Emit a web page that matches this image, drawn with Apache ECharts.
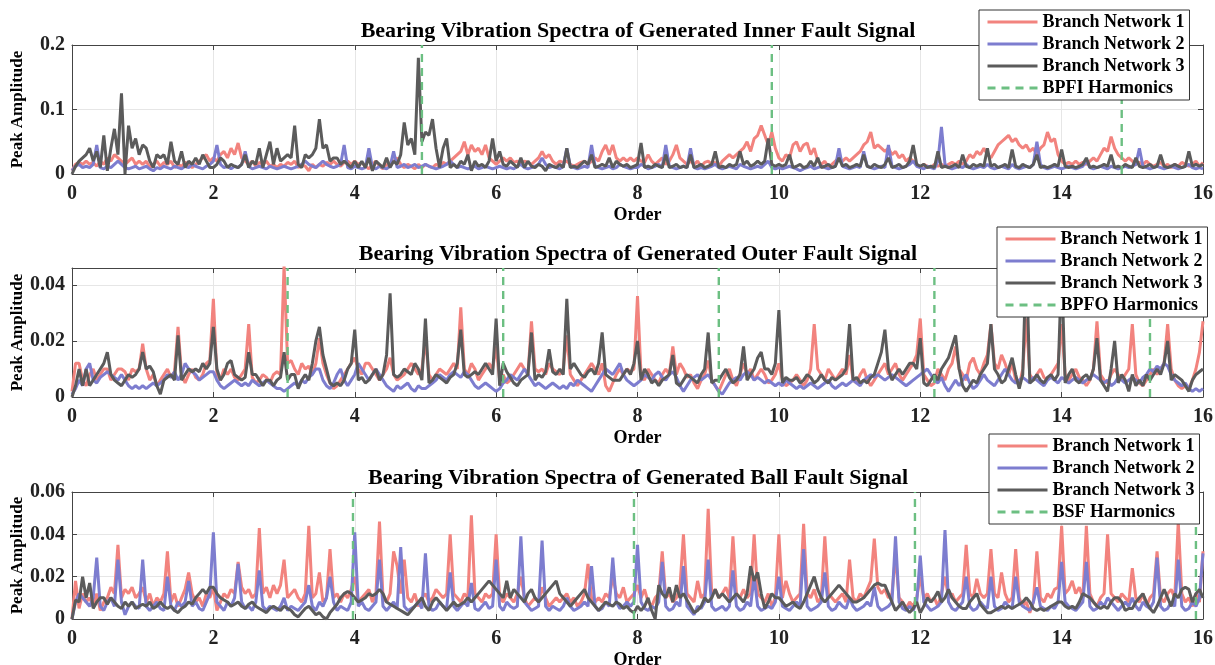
<!DOCTYPE html>
<html>
<head>
<meta charset="utf-8">
<script src="https://cdn.jsdelivr.net/npm/echarts/dist/echarts.min.js"></script>
<style>
  html, body { margin: 0; padding: 0; background: #fff; }
  #chart { width: 1215px; height: 665px; }
</style>
</head>
<body>
<div id="chart"></div>
<script>
// spectra sampled every 0.05 order, 0 .. 16 (one row = one order)
const ORDER_STEP = 0.05;

// inner fault
const innerBN1 = [
  0.005,0.015,0.018,0.015,0.02,0.015,0.018,0.012,0.02,0.015,0.025,0.02,0.03,0.025,0.02,0.015,0.02,0.025,0.015,0.02,
  0.015,0.02,0.01,0.015,0.02,0.012,0.018,0.015,0.02,0.01,0.015,0.012,0.018,0.015,0.01,0.015,0.02,0.025,0.03,0.02,
  0.025,0.02,0.03,0.035,0.025,0.04,0.03,0.048,0.025,0.02,0.015,0.02,0.012,0.018,0.015,0.02,0.012,0.015,0.01,0.015,
  0.012,0.018,0.015,0.02,0.01,0.015,0.012,0.005,0.015,0.01,0.015,0.012,0.018,0.015,0.02,0.015,0.012,0.018,0.02,0.015,
  0.02,0.015,0.018,0.012,0.008,0.015,0.02,0.012,0.008,0.015,0.012,0.02,0.025,0.015,0.01,0.015,0.012,0.008,0.015,0.01,
  0.015,0.012,0.01,0.015,0.012,0.018,0.015,0.02,0.025,0.03,0.035,0.05,0.03,0.045,0.035,0.04,0.03,0.045,0.025,0.02,
  0.015,0.02,0.025,0.02,0.025,0.018,0.02,0.015,0.02,0.018,0.015,0.02,0.025,0.035,0.025,0.03,0.02,0.015,0.02,0.018,
  0.02,0.015,0.012,0.015,0.018,0.02,0.015,0.02,0.025,0.02,0.035,0.045,0.03,0.045,0.025,0.02,0.025,0.02,0.025,0.02,
  0.025,0.02,0.018,0.03,0.02,0.015,0.02,0.025,0.015,0.02,0.03,0.045,0.025,0.02,0.015,0.02,0.015,0.02,0.012,0.018,
  0.02,0.015,0.018,0.012,0.02,0.025,0.03,0.025,0.03,0.035,0.04,0.05,0.035,0.055,0.06,0.075,0.06,0.045,0.065,0.04,
  0.025,0.02,0.03,0.025,0.045,0.05,0.035,0.045,0.048,0.03,0.04,0.02,0.015,0.02,0.01,0.015,0.02,0.025,0.02,0.025,
  0.02,0.025,0.03,0.035,0.045,0.05,0.065,0.04,0.045,0.04,0.035,0.04,0.03,0.035,0.025,0.03,0.02,0.025,0.02,0.015,
  0.01,0.015,0.012,0.01,0.015,0.012,0.015,0.012,0.015,0.018,0.015,0.02,0.015,0.02,0.03,0.025,0.035,0.03,0.04,0.03,
  0.025,0.035,0.045,0.05,0.055,0.06,0.05,0.055,0.045,0.04,0.045,0.035,0.04,0.03,0.04,0.045,0.065,0.05,0.055,0.03,
  0.02,0.015,0.018,0.015,0.02,0.015,0.018,0.015,0.02,0.025,0.02,0.03,0.04,0.035,0.058,0.04,0.03,0.025,0.02,0.025,
  0.02,0.015,0.018,0.015,0.02,0.015,0.012,0.015,0.018,0.012,0.015,0.01,0.015,0.012,0.018,0.015,0.012,0.015,0.02,0.012,
  0.018
];
const innerBN2 = [
  0.005,0.012,0.015,0.01,0.012,0.01,0.015,0.045,0.01,0.008,0.012,0.01,0.015,0.02,0.015,0.01,0.008,0.01,0.012,0.008,
  0.01,0.012,0.008,0.005,0.01,0.008,0.012,0.01,0.008,0.012,0.01,0.008,0.012,0.01,0.015,0.012,0.01,0.008,0.012,0.015,
  0.02,0.045,0.015,0.01,0.012,0.008,0.012,0.01,0.015,0.035,0.012,0.008,0.01,0.012,0.01,0.008,0.012,0.01,0.008,0.01,
  0.012,0.01,0.008,0.01,0.012,0.015,0.02,0.015,0.012,0.01,0.015,0.02,0.015,0.012,0.01,0.012,0.015,0.045,0.01,0.008,
  0.012,0.01,0.008,0.01,0.04,0.01,0.008,0.012,0.01,0.008,0.012,0.035,0.01,0.012,0.015,0.01,0.012,0.015,0.01,0.012,
  0.015,0.012,0.01,0.008,0.01,0.012,0.015,0.02,0.015,0.01,0.012,0.01,0.008,0.01,0.012,0.008,0.01,0.012,0.01,0.008,
  0.01,0.012,0.01,0.008,0.01,0.008,0.012,0.015,0.01,0.008,0.01,0.012,0.015,0.025,0.015,0.01,0.012,0.01,0.008,0.012,
  0.04,0.012,0.01,0.008,0.01,0.012,0.01,0.045,0.012,0.01,0.008,0.01,0.012,0.008,0.01,0.015,0.012,0.01,0.008,0.01,
  0.01,0.015,0.012,0.008,0.01,0.012,0.015,0.01,0.045,0.012,0.01,0.008,0.01,0.012,0.01,0.04,0.01,0.008,0.01,0.008,
  0.01,0.012,0.015,0.01,0.008,0.01,0.012,0.01,0.008,0.015,0.012,0.01,0.008,0.01,0.012,0.01,0.015,0.02,0.01,0.008,
  0.01,0.008,0.01,0.012,0.01,0.008,0.005,0.008,0.01,0.012,0.008,0.01,0.012,0.01,0.008,0.01,0.012,0.04,0.012,0.01,
  0.008,0.01,0.012,0.01,0.035,0.012,0.01,0.008,0.01,0.012,0.01,0.045,0.012,0.01,0.008,0.01,0.012,0.015,0.02,0.012,
  0.01,0.008,0.012,0.01,0.008,0.02,0.073,0.015,0.01,0.008,0.01,0.012,0.01,0.015,0.01,0.008,0.01,0.012,0.01,0.015,
  0.01,0.008,0.01,0.012,0.01,0.008,0.015,0.01,0.008,0.01,0.012,0.01,0.015,0.05,0.015,0.01,0.008,0.01,0.012,0.01,
  0.008,0.01,0.012,0.01,0.008,0.01,0.012,0.02,0.01,0.008,0.01,0.012,0.01,0.008,0.012,0.01,0.008,0.01,0.012,0.01,
  0.012,0.015,0.04,0.012,0.01,0.008,0.01,0.012,0.01,0.008,0.01,0.012,0.01,0.008,0.01,0.012,0.015,0.01,0.008,0.01,
  0.008
];
const innerBN3 = [
  0,0.012,0.02,0.025,0.03,0.04,0.02,0.035,0.01,0.06,0.005,0.04,0.07,0.03,0.125,0,0.075,0.04,0.055,0.03,
  0.045,0.04,0.02,0.01,0.03,0.025,0.03,0.015,0.05,0.02,0.015,0.035,0.01,0.02,0.015,0.025,0.015,0.03,0.02,0.01,
  0.01,0.015,0.025,0.02,0.01,0.015,0.012,0.01,0.015,0.03,0.01,0.02,0.015,0.04,0.01,0.03,0.05,0.015,0.04,0.02,
  0.025,0.03,0.025,0.075,0.015,0.01,0.03,0.025,0.03,0.04,0.085,0.04,0.045,0.02,0.025,0.025,0.015,0.02,0.015,0.01,
  0.02,0.01,0.02,0.01,0.025,0.005,0.02,0.015,0.01,0.025,0.01,0.02,0.015,0.03,0.08,0.045,0.055,0.03,0.18,0.05,
  0.065,0.06,0.085,0.04,0.01,0.04,0.055,0.01,0.015,0.01,0.02,0.015,0.03,0.005,0.02,0.012,0.015,0.01,0.02,0.055,
  0.02,0.035,0.015,0.012,0.02,0.015,0.01,0.025,0.01,0.02,0.012,0.01,0.015,0.012,0.005,0.015,0.012,0.01,0.015,0.01,
  0.04,0.01,0.012,0.01,0.015,0.02,0.015,0.03,0.01,0.012,0.015,0.012,0.025,0.01,0.02,0.015,0.012,0.015,0.01,0.012,
  0.015,0.048,0.01,0.012,0.01,0.015,0.012,0.01,0.03,0.01,0.012,0.015,0.01,0.012,0.01,0.03,0.01,0.012,0.015,0.01,
  0.012,0.015,0.035,0.01,0.012,0.01,0.015,0.012,0.015,0.035,0.015,0.02,0.012,0.015,0.02,0.015,0.02,0.055,0.015,0.012,
  0.015,0.012,0.015,0.03,0.01,0.012,0.015,0.01,0.012,0.02,0.012,0.025,0.01,0.012,0.015,0.01,0.012,0.025,0.012,0.015,
  0.01,0.012,0.015,0.012,0.03,0.012,0.01,0.015,0.012,0.01,0.015,0.025,0.01,0.012,0.015,0.01,0.012,0.02,0.045,0.015,
  0.012,0.015,0.01,0.012,0.01,0.035,0.01,0.012,0.01,0.012,0.015,0.01,0.03,0.012,0.01,0.015,0.012,0.015,0.012,0.04,
  0.012,0.015,0.01,0.012,0.015,0.01,0.038,0.012,0.01,0.015,0.012,0.01,0.015,0.03,0.01,0.012,0.01,0.012,0.015,0.012,
  0.038,0.012,0.01,0.012,0.01,0.012,0.015,0.025,0.01,0.012,0.01,0.012,0.015,0.012,0.03,0.01,0.012,0.01,0.015,0.012,
  0.01,0.025,0.012,0.01,0.012,0.015,0.01,0.012,0.03,0.012,0.01,0.012,0.015,0.012,0.01,0.012,0.035,0.012,0.015,0.012,
  0.015
];

// outer fault
const outerBN1 = [
  0.002,0.012,0.012,0.006,0.004,0.008,0.01,0.006,0.008,0.01,0.01,0.006,0.008,0.01,0.01,0.009,0.006,0.01,0.009,0.01,
  0.019,0.01,0.006,0.008,0.004,0.006,0.008,0.01,0.007,0.009,0.025,0.008,0.005,0.008,0.01,0.007,0.006,0.008,0.012,0.013,
  0.035,0.008,0.006,0.01,0.008,0.01,0.007,0.006,0.008,0.01,0.026,0.007,0.005,0.006,0.008,0.007,0.005,0.008,0.009,0.008,
  0.047,0.012,0.013,0.01,0.008,0.012,0.01,0.011,0.008,0.012,0.021,0.012,0.008,0.005,0.003,0.004,0.006,0.008,0.01,0.012,
  0.014,0.01,0.008,0.012,0.012,0.01,0.008,0.006,0.008,0.01,0.014,0.008,0.006,0.007,0.008,0.01,0.012,0.01,0.008,0.01,
  0.02,0.008,0.006,0.008,0.01,0.009,0.008,0.01,0.012,0.01,0.032,0.01,0.008,0.012,0.01,0.006,0.008,0.01,0.012,0.01,
  0.018,0.006,0.008,0.005,0.006,0.008,0.01,0.012,0.01,0.008,0.027,0.01,0.009,0.01,0.008,0.012,0.01,0.009,0.008,0.01,
  0.022,0.008,0.006,0.004,0.006,0.008,0.01,0.012,0.01,0.008,0.012,0.004,0.002,0.005,0.008,0.01,0.008,0.01,0.009,0.01,
  0.036,0.008,0.006,0.01,0.008,0.006,0.005,0.008,0.01,0.008,0.018,0.008,0.012,0.01,0.007,0.008,0.005,0.003,0.006,0.008,
  0.013,0.006,0.004,0.002,0.005,0.008,0.01,0.006,0.004,0.008,0.012,0.008,0.01,0.006,0.008,0.01,0.008,0.005,0.006,0.008,
  0.012,0.006,0.004,0.005,0.006,0.008,0.006,0.004,0.006,0.01,0.026,0.01,0.008,0.006,0.01,0.008,0.006,0.008,0.01,0.008,
  0.015,0.006,0.005,0.008,0.01,0.006,0.004,0.006,0.008,0.01,0.012,0.008,0.01,0.012,0.008,0.006,0.008,0.01,0.012,0.015,
  0.028,0.008,0.006,0.004,0.005,0.01,0.008,0.006,0.01,0.012,0.018,0.01,0.008,0.006,0.012,0.014,0.01,0.008,0.012,0.015,
  0.026,0.012,0.01,0.015,0.012,0.008,0.012,0.006,0.004,0.01,0.028,0.008,0.006,0.008,0.01,0.007,0.006,0.008,0.01,0.012,
  0.026,0.008,0.006,0.008,0.01,0.007,0.006,0.004,0.006,0.01,0.027,0.008,0.006,0.005,0.008,0.01,0.008,0.006,0.008,0.01,
  0.026,0.008,0.005,0.004,0.006,0.008,0.01,0.008,0.01,0.012,0.026,0.01,0.006,0.004,0.003,0.004,0.003,0.006,0.01,0.016,
  0.027
];
const outerBN2 = [
  0.001,0.003,0.006,0.004,0.01,0.012,0.006,0.005,0.007,0.008,0.009,0.008,0.007,0.006,0.008,0.006,0.004,0.003,0.004,0.003,
  0.004,0.003,0.004,0.005,0.004,0.005,0.006,0.008,0.007,0.009,0.006,0.008,0.012,0.01,0.009,0.008,0.006,0.007,0.008,0.009,
  0.009,0.006,0.004,0.003,0.004,0.005,0.006,0.005,0.004,0.005,0.004,0.006,0.005,0.004,0.005,0.006,0.005,0.004,0.003,0.003,
  0.002,0.003,0.004,0.005,0.004,0.006,0.005,0.007,0.008,0.01,0.01,0.006,0.004,0.003,0.005,0.008,0.01,0.006,0.004,0.006,
  0.008,0.012,0.01,0.008,0.006,0.008,0.01,0.008,0.006,0.004,0.003,0.002,0.004,0.003,0.004,0.005,0.003,0.002,0.004,0.003,
  0.003,0.004,0.005,0.006,0.008,0.007,0.006,0.008,0.009,0.008,0.007,0.009,0.008,0.006,0.004,0.003,0.004,0.005,0.004,0.003,
  0.002,0.003,0.005,0.006,0.008,0.007,0.006,0.008,0.01,0.008,0.006,0.004,0.005,0.004,0.003,0.004,0.005,0.004,0.003,0.004,
  0.003,0.005,0.004,0.006,0.005,0.004,0.003,0.002,0.004,0.006,0.008,0.01,0.009,0.008,0.01,0.012,0.008,0.006,0.005,0.004,
  0.005,0.006,0.008,0.007,0.006,0.008,0.009,0.007,0.006,0.008,0.009,0.007,0.004,0.002,0.004,0.006,0.007,0.008,0.006,0.007,
  0.008,0.006,0.004,0.002,0.001,0.003,0.005,0.006,0.007,0.006,0.008,0.009,0.008,0.006,0.007,0.006,0.005,0.006,0.005,0.004,
  0.005,0.004,0.006,0.005,0.004,0.003,0.004,0.003,0.004,0.005,0.004,0.003,0.004,0.005,0.006,0.004,0.003,0.004,0.005,0.004,
  0.005,0.006,0.005,0.004,0.006,0.007,0.008,0.007,0.008,0.007,0.006,0.007,0.008,0.007,0.006,0.005,0.004,0.005,0.006,0.007,
  0.008,0.009,0.01,0.008,0.006,0.005,0.007,0.004,0.002,0.004,0.006,0.004,0.006,0.008,0.005,0.003,0.004,0.006,0.008,0.006,
  0.005,0.004,0.006,0.008,0.01,0.008,0.006,0.005,0.006,0.007,0.006,0.005,0.007,0.006,0.005,0.004,0.006,0.007,0.006,0.005,
  0.007,0.006,0.005,0.006,0.007,0.006,0.005,0.006,0.007,0.008,0.007,0.006,0.005,0.006,0.004,0.005,0.007,0.006,0.005,0.006,
  0.007,0.006,0.005,0.007,0.008,0.01,0.009,0.011,0.01,0.012,0.011,0.008,0.006,0.005,0.004,0.005,0.003,0.002,0.003,0.002,
  0.003
];
const outerBN3 = [
  0,0.004,0.01,0.004,0.01,0.004,0.006,0.008,0.01,0.012,0.016,0.008,0.006,0.005,0.004,0.006,0.008,0.007,0.008,0.01,
  0.016,0.01,0.011,0.009,0.004,0.001,0.006,0.007,0.008,0.006,0.022,0.006,0.008,0.01,0.009,0.01,0.009,0.012,0.01,0.012,
  0.025,0.01,0.006,0.008,0.012,0.013,0.008,0.007,0.006,0.007,0.016,0.008,0.008,0.006,0.004,0.006,0.006,0.004,0.006,0.007,
  0.016,0.006,0.008,0.008,0.003,0.006,0.008,0.006,0.012,0.02,0.025,0.015,0.01,0.005,0.004,0.005,0.004,0.006,0.01,0.012,
  0.024,0.006,0.007,0.005,0.006,0.008,0.01,0.006,0.008,0.015,0.037,0.008,0.007,0.008,0.01,0.009,0.008,0.012,0.01,0.006,
  0.028,0.005,0.006,0.008,0.007,0.006,0.005,0.007,0.008,0.012,0.024,0.008,0.007,0.008,0.009,0.008,0.01,0.012,0.01,0.008,
  0.028,0.004,0.012,0.009,0.007,0.005,0.004,0.006,0.007,0.008,0.023,0.006,0.008,0.007,0.009,0.017,0.009,0.008,0.01,0.008,
  0.035,0.01,0.012,0.01,0.008,0.007,0.009,0.01,0.008,0.012,0.023,0.008,0.007,0.006,0.006,0.006,0.008,0.01,0.008,0.012,
  0.02,0.006,0.01,0.008,0.005,0.006,0.004,0.006,0.007,0.008,0.015,0.005,0.004,0.006,0.008,0.007,0.006,0.005,0.008,0.01,
  0.023,0.005,0.006,0.006,0.008,0.01,0.007,0.005,0.006,0.008,0.018,0.006,0.008,0.01,0.014,0.016,0.01,0.01,0.008,0.012,
  0.031,0.005,0.007,0.006,0.006,0.007,0.005,0.006,0.008,0.007,0.005,0.006,0.008,0.006,0.005,0.007,0.006,0.007,0.008,0.01,
  0.026,0.006,0.007,0.005,0.006,0.005,0.007,0.008,0.012,0.016,0.024,0.01,0.006,0.008,0.01,0.008,0.01,0.012,0.012,0.01,
  0.021,0.005,0.004,0.006,0.008,0.006,0.01,0.012,0.014,0.018,0.022,0.01,0.004,0.002,0.004,0.006,0.005,0.008,0.01,0.012,
  0.026,0.01,0.008,0.005,0.006,0.01,0.014,0.008,0.003,0.008,0.05,0.005,0.006,0.008,0.006,0.005,0.007,0.008,0.006,0.008,
  0.046,0.005,0.008,0.01,0.006,0.005,0.007,0.008,0.006,0.01,0.021,0.006,0.004,0.002,0.01,0.02,0.005,0.008,0.006,0.002,
  0.008,0.004,0.006,0.004,0.008,0.006,0.008,0.01,0.008,0.012,0.02,0.006,0.008,0.007,0.006,0.004,0.002,0.006,0.008,0.009,
  0.01
];

// ball fault
const ballBN1 = [
  0,0.018,0.005,0.012,0.008,0.01,0.006,0.012,0.004,0.008,0.01,0.015,0.012,0.035,0.01,0.014,0.012,0.015,0.01,0.012,
  0.015,0.008,0.012,0.006,0.01,0.008,0.012,0.032,0.008,0.012,0.006,0.01,0.014,0.022,0.012,0.008,0.01,0.006,0.012,0.01,
  0.015,0.004,0.008,0.012,0.01,0.014,0.012,0.027,0.015,0.012,0.014,0.01,0.012,0.043,0.012,0.015,0.01,0.016,0.012,0.016,
  0.028,0.01,0.012,0.014,0.01,0.008,0.012,0.044,0.01,0.012,0.022,0.008,0.01,0.033,0.01,0.012,0.008,0.012,0.01,0.014,
  0.02,0.008,0.01,0.012,0.014,0.008,0.012,0.046,0.01,0.008,0.012,0.032,0.025,0.012,0.028,0.01,0.008,0.012,0.006,0.01,
  0.012,0.008,0.01,0.014,0.012,0.01,0.012,0.04,0.012,0.01,0.008,0.012,0.01,0.049,0.012,0.01,0.008,0.012,0.01,0.012,
  0.04,0.01,0.008,0.012,0.01,0.008,0.012,0.02,0.01,0.006,0.008,0.01,0.008,0.015,0.01,0.006,0.008,0.01,0.008,0.01,
  0.012,0.008,0.01,0.006,0.008,0.012,0.026,0.01,0.008,0.01,0.008,0.012,0.01,0.02,0.012,0.01,0.015,0.008,0.01,0.012,
  0.016,0.01,0.014,0.008,0.006,0.01,0.012,0.032,0.01,0.012,0.008,0.01,0.015,0.04,0.012,0.01,0.008,0.018,0.01,0.012,
  0.052,0.012,0.014,0.01,0.012,0.015,0.01,0.039,0.012,0.01,0.014,0.01,0.012,0.04,0.012,0.01,0.008,0.012,0.006,0.01,
  0.04,0.01,0.018,0.012,0.008,0.01,0.012,0.045,0.012,0.01,0.014,0.008,0.01,0.039,0.012,0.01,0.008,0.01,0.012,0.008,
  0.028,0.01,0.008,0.012,0.01,0.014,0.018,0.038,0.015,0.012,0.014,0.01,0.012,0.03,0.01,0.008,0.005,0.008,0.006,0.01,
  0.02,0.01,0.012,0.008,0.01,0.006,0.012,0.02,0.01,0.012,0.008,0.01,0.012,0.035,0.012,0.01,0.019,0.012,0.01,0.012,
  0.033,0.012,0.01,0.022,0.012,0.008,0.01,0.033,0.01,0.006,0.008,0.003,0.008,0.032,0.01,0.008,0.012,0.01,0.014,0.015,
  0.044,0.012,0.014,0.018,0.012,0.015,0.01,0.044,0.012,0.008,0.006,0.01,0.012,0.04,0.012,0.01,0.008,0.012,0.01,0.008,
  0.024,0.01,0.008,0.012,0.006,0.01,0.012,0.032,0.01,0.008,0.012,0.014,0.01,0.046,0.012,0.008,0.01,0.006,0.012,0.008,
  0.032
];
const ballBN2 = [
  0,0.008,0.012,0.01,0.008,0.006,0.01,0.029,0.006,0.004,0.008,0.01,0.006,0.028,0.008,0.002,0.006,0.008,0.006,0.005,
  0.028,0.006,0.004,0.006,0.008,0.005,0.004,0.02,0.006,0.004,0.008,0.006,0.008,0.018,0.006,0.008,0.005,0.004,0.008,0.012,
  0.041,0.008,0.006,0.004,0.008,0.006,0.01,0.026,0.008,0.005,0.006,0.004,0.008,0.023,0.006,0.004,0.006,0.005,0.004,0.006,
  0.01,0.004,0.006,0.005,0.004,0.006,0.008,0.016,0.006,0.004,0.008,0.006,0.01,0.02,0.008,0.004,0.006,0.005,0.004,0.008,
  0.041,0.006,0.008,0.005,0.004,0.006,0.008,0.028,0.006,0.004,0.006,0.008,0.005,0.034,0.006,0.004,0.005,0.006,0.008,0.005,
  0.031,0.006,0.004,0.005,0.008,0.006,0.005,0.022,0.006,0.004,0.006,0.008,0.006,0.017,0.005,0.004,0.006,0.008,0.005,0.006,
  0.028,0.006,0.004,0.008,0.006,0.005,0.006,0.039,0.008,0.006,0.004,0.005,0.006,0.037,0.006,0.004,0.006,0.005,0.004,0.006,
  0.01,0.006,0.004,0.005,0.006,0.008,0.006,0.025,0.006,0.004,0.005,0.008,0.006,0.029,0.008,0.005,0.006,0.008,0.006,0.008,
  0.035,0.008,0.005,0.004,0.006,0.005,0.008,0.027,0.006,0.004,0.005,0.008,0.006,0.025,0.006,0.004,0.002,0.006,0.005,0.008,
  0.028,0.006,0.004,0.005,0.006,0.004,0.006,0.023,0.006,0.004,0.005,0.008,0.006,0.02,0.006,0.004,0.005,0.006,0.005,0.008,
  0.02,0.006,0.005,0.004,0.006,0.008,0.006,0.033,0.006,0.004,0.005,0.006,0.008,0.022,0.006,0.004,0.005,0.008,0.006,0.005,
  0.01,0.006,0.004,0.005,0.006,0.008,0.006,0.015,0.006,0.004,0.005,0.006,0.008,0.039,0.008,0.005,0.004,0.006,0.004,0.008,
  0.03,0.008,0.006,0.004,0.005,0.006,0.008,0.042,0.008,0.005,0.004,0.006,0.008,0.02,0.006,0.004,0.005,0.008,0.006,0.005,
  0.02,0.006,0.004,0.005,0.008,0.006,0.005,0.02,0.008,0.006,0.005,0.004,0.008,0.015,0.006,0.005,0.004,0.006,0.005,0.008,
  0.027,0.008,0.006,0.005,0.004,0.006,0.008,0.027,0.006,0.004,0.005,0.008,0.006,0.01,0.008,0.006,0.004,0.006,0.008,0.006,
  0.01,0.006,0.004,0.008,0.006,0.005,0.008,0.029,0.006,0.004,0.005,0.008,0.006,0.028,0.006,0.004,0.005,0.008,0.006,0.01,
  0.031
];
const ballBN3 = [
  0,0.009,0.008,0.02,0.01,0.017,0.005,0.008,0.01,0.01,0.007,0.01,0.008,0.006,0.005,0.008,0.006,0.008,0.005,0.006,
  0.007,0.006,0.008,0.005,0.006,0.008,0.006,0.005,0.006,0.004,0.003,0.005,0.006,0.008,0.007,0.01,0.012,0.014,0.012,0.015,
  0.015,0.012,0.01,0.009,0.008,0.006,0.007,0.008,0.006,0.005,0.007,0.008,0.006,0.005,0.004,0.003,0.005,0.006,0.005,0.004,
  0.006,0.005,0.004,0.002,0.001,0.003,0.005,0.006,0.004,0.002,0.003,0.001,0,0.003,0.005,0.007,0.01,0.012,0.013,0.012,
  0.01,0.008,0.009,0.01,0.012,0.011,0.012,0.014,0.012,0.008,0.007,0.006,0.005,0.004,0.003,0.002,0.004,0.006,0.008,0.01,
  0.006,0.004,0.008,0.01,0.008,0.006,0.004,0.006,0.008,0.006,0.007,0.008,0.01,0.008,0.01,0.012,0.014,0.016,0.018,0.016,
  0.014,0.012,0.01,0.018,0.01,0.014,0.012,0.01,0.008,0.012,0.014,0.01,0.008,0.01,0.012,0.014,0.016,0.018,0.012,0.01,
  0.008,0.006,0.008,0.01,0.012,0.014,0.01,0.008,0.006,0.004,0.006,0.008,0.007,0.006,0.008,0.007,0.005,0.006,0.004,0.003,
  0.006,0.004,0.006,0.01,0.004,0,0.016,0.012,0.01,0.015,0.008,0.016,0.01,0.012,0.009,0.006,0.003,0.004,0.006,0.01,
  0.008,0.01,0.014,0.01,0.012,0.01,0.008,0.01,0.012,0.01,0.008,0.012,0.025,0.018,0.022,0.012,0.005,0.008,0.012,0.01,
  0.01,0.008,0.006,0.007,0.008,0.006,0.005,0.008,0.012,0.016,0.02,0.014,0.01,0.008,0.01,0.012,0.014,0.016,0.014,0.012,
  0.01,0.008,0.008,0.009,0.01,0.012,0.014,0.016,0.017,0.016,0.016,0.012,0.008,0.004,0.006,0.008,0.005,0.003,0.005,0.008,
  0.003,0.006,0.01,0.008,0.01,0.013,0.008,0.01,0.014,0.01,0.008,0.006,0.005,0.005,0.008,0.01,0.012,0.007,0.005,0.003,
  0.003,0.004,0.005,0.006,0.005,0.006,0.005,0.006,0.007,0.008,0.01,0.008,0.005,0.004,0.005,0.004,0.005,0.006,0.007,0.008,
  0.008,0.006,0.005,0.006,0.005,0.008,0.012,0.011,0.01,0.008,0.006,0.005,0.006,0.005,0.008,0.01,0.01,0.008,0.004,0.005,
  0.005,0.008,0.01,0.012,0.008,0.005,0.003,0.006,0.01,0.014,0.01,0.006,0.012,0.01,0.014,0.015,0.014,0.008,0.012,0.014,
  0.01
];

// fault characteristic harmonics (order)
const bpfiHarmonics = [4.95, 9.9, 14.85];
const bpfoHarmonics = [3.05, 6.1, 9.15, 12.2, 15.25];
const bsfHarmonics = [3.975, 7.95, 11.925, 15.9];

const branchNames = ['Branch Network 1', 'Branch Network 2', 'Branch Network 3'];
const branchColors = ['#F2837E', '#7D7DCF', '#5B5B5B'];
const harmColor = '#6CBF82';
const FONT = "'Liberation Serif', 'Times New Roman', serif";

const panels = [
  { title: 'Bearing Vibration Spectra of Generated Inner Fault Signal', top: 45, height: 129, yMax: 0.2, yStep: 0.1,
    lines: [innerBN1, innerBN2, innerBN3], harmName: 'BPFI Harmonics', harm: bpfiHarmonics, legendLeft: 979, legendTop: 10 },
  { title: 'Bearing Vibration Spectra of Generated Outer Fault Signal', top: 268, height: 129, yMax: 0.046, yStep: 0.02,
    lines: [outerBN1, outerBN2, outerBN3], harmName: 'BPFO Harmonics', harm: bpfoHarmonics, legendLeft: 997, legendTop: 227 },
  { title: 'Bearing Vibration Spectra of Generated Ball Fault Signal', top: 492, height: 127, yMax: 0.06, yStep: 0.02,
    lines: [ballBN1, ballBN2, ballBN3], harmName: 'BSF Harmonics', harm: bsfHarmonics, legendLeft: 989, legendTop: 434 }
];

const boldText = { fontFamily: FONT, fontWeight: 'bold', color: '#000' };
const axisColor = '#444';

const option = {
  animation: false,
  backgroundColor: '#fff',
  title: [], grid: [], xAxis: [], yAxis: [], legend: [], series: []
};

panels.forEach(function (p, i) {
  option.title.push({
    text: p.title, left: 633, top: p.top - 30, textAlign: 'center',
    textStyle: Object.assign({ fontSize: 22 }, boldText)
  });
  option.grid.push({ left: 72, right: 12, top: p.top, height: p.height, outerBoundsMode: 'none', containLabel: false });

  option.xAxis.push({
    gridIndex: i, type: 'value', min: 0, max: 16, interval: 2,
    name: 'Order', nameLocation: 'middle', nameGap: 32, nameMoveOverlap: false,
    nameTextStyle: Object.assign({ fontSize: 18 }, boldText),
    axisLine: { lineStyle: { color: axisColor, width: 1 } },
    axisTick: { inside: true, length: 5, lineStyle: { color: axisColor } },
    axisLabel: Object.assign({ fontSize: 20, margin: 10 }, boldText, { color: '#222' }),
    splitLine: { show: true, lineStyle: { color: '#e6e6e6', width: 1 } }
  });
  option.xAxis.push({
    gridIndex: i, type: 'value', min: 0, max: 16, interval: 2, position: 'top',
    axisLine: { onZero: false, lineStyle: { color: axisColor, width: 1 } },
    axisTick: { inside: true, length: 5, lineStyle: { color: axisColor } },
    axisLabel: { show: false }, splitLine: { show: false }
  });
  option.yAxis.push({
    gridIndex: i, type: 'value', min: 0, max: p.yMax, interval: p.yStep,
    name: 'Peak Amplitude', nameLocation: 'middle', nameGap: 46, nameMoveOverlap: false,
    nameTextStyle: Object.assign({ fontSize: 17 }, boldText),
    axisLine: { show: true, lineStyle: { color: axisColor, width: 1 } },
    axisTick: { show: true, inside: true, length: 5, lineStyle: { color: axisColor } },
    axisLabel: Object.assign({ fontSize: 20, margin: 7, showMaxLabel: p.yMax !== 0.046 }, boldText, { color: '#222' }),
    splitLine: { show: true, lineStyle: { color: '#e6e6e6', width: 1 } }
  });
  option.yAxis.push({
    gridIndex: i, type: 'value', min: 0, max: p.yMax, interval: p.yStep, position: 'right',
    axisLine: { show: true, onZero: false, lineStyle: { color: axisColor, width: 1 } },
    axisTick: { show: true, inside: true, length: 5, lineStyle: { color: axisColor } },
    axisLabel: { show: false }, splitLine: { show: false }
  });

  p.lines.forEach(function (vals, k) {
    option.series.push({
      name: branchNames[k], type: 'line', xAxisIndex: 2 * i, yAxisIndex: 2 * i,
      data: vals.map(function (v, j) { return [+(j * ORDER_STEP).toFixed(2), v]; }),
      symbol: 'none', clip: true, z: 2 + k,
      lineStyle: { color: branchColors[k], width: 3 },
      itemStyle: { color: branchColors[k] }
    });
  });

  const harmData = [];
  p.harm.forEach(function (h) { harmData.push([h, 0], [h, p.yMax], [h, '-']); });
  option.series.push({
    name: p.harmName, type: 'line', xAxisIndex: 2 * i, yAxisIndex: 2 * i,
    data: harmData, symbol: 'none', connectNulls: false, z: 6,
    lineStyle: { color: harmColor, width: 2.4, type: [8, 6] },
    itemStyle: { color: harmColor }
  });

  option.legend.push({
    orient: 'vertical', left: p.legendLeft, top: p.legendTop,
    data: branchNames.concat([p.harmName]),
    itemWidth: 50, itemHeight: 14, itemGap: 4,
    padding: [3, 5, 3, 7],
    itemStyle: { opacity: 0 },
    lineStyle: { width: 3 },
    backgroundColor: '#fff', borderColor: '#333', borderWidth: 1, borderRadius: 0,
    textStyle: Object.assign({ fontSize: 18 }, boldText),
    z: 10
  });
});

const chart = echarts.init(document.getElementById('chart'), null, { renderer: 'canvas' });
chart.setOption(option);
</script>
</body>
</html>
